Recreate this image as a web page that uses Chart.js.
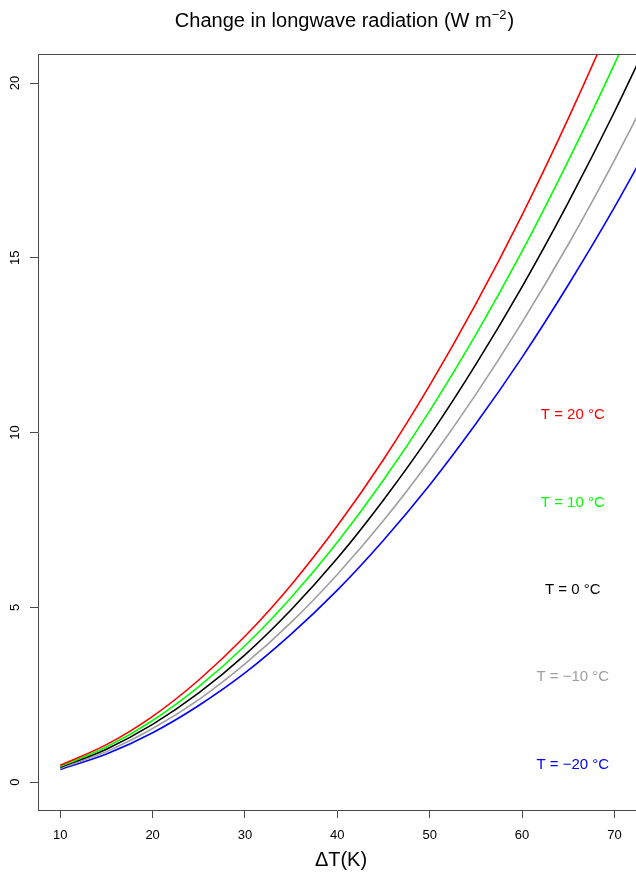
<!DOCTYPE html>
<html><head><meta charset="utf-8">
<script src="https://cdn.jsdelivr.net/npm/chart.js@4/dist/chart.umd.min.js"></script>
<style>html,body{margin:0;padding:0;background:#fff;}#wrap{width:636px;height:874px;}</style>
</head><body><div id="wrap"><canvas id="c" width="636" height="874"></canvas></div>
<script>
// Data
const deltaT = [10, 15, 20, 25, 30, 35, 40, 45, 50, 55, 60, 65, 70, 75];
const lwT20  = [0.48, 1.07, 1.88, 2.92, 4.17, 5.64, 7.33, 9.23, 11.35, 13.68, 16.22, 18.98, 21.95, 25.13];
const lwT10  = [0.45, 1.00, 1.76, 2.73, 3.90, 5.28, 6.86, 8.64, 10.62, 12.80, 15.18, 17.77, 20.54, 23.52];
const lwT0   = [0.42, 0.94, 1.65, 2.55, 3.64, 4.93, 6.40, 8.07, 9.91, 11.95, 14.17, 16.58, 19.17, 21.95];
const lwTm10 = [0.39, 0.87, 1.53, 2.36, 3.38, 4.57, 5.94, 7.48, 9.20, 11.09, 13.15, 15.38, 17.79, 20.36];
const lwTm20 = [0.36, 0.80, 1.41, 2.19, 3.12, 4.23, 5.49, 6.92, 8.50, 10.25, 12.15, 14.22, 16.44, 18.83];
const seriesNames = ['T = 20 \u00B0C', 'T = 10 \u00B0C', 'T = 0 \u00B0C', 'T = \u221210 \u00B0C', 'T = \u221220 \u00B0C'];
const seriesColors = ['#FF0000', '#00FF00', '#000000', '#9E9E9E', '#0000FF'];
const labelX = 65.5;
const labelY = [10.5, 8.0, 5.5, 3.0, 0.5];
const xTicks = [10, 20, 30, 40, 50, 60, 70];
const yTicks = [0, 5, 10, 15, 20];
const titleMain = 'Change in longwave radiation (W m';
const titleSup = '\u22122';
const titleEnd = ')';
const xTitle = '\u0394T(K)';

const allSeries = [lwT20, lwT10, lwT0, lwTm10, lwTm20];
const FONT = '"Liberation Sans", Arial, Helvetica, sans-serif';
const AXIS = '#4a4a4a';

const datasets = allSeries.map((s, i) => ({
  label: seriesNames[i],
  data: deltaT.map((x, j) => ({x: x, y: s[j]})),
  borderColor: seriesColors[i],
  borderWidth: 1.6,
  pointRadius: 0,
  fill: false,
  cubicInterpolationMode: 'monotone'
}));

const extras = {
  id: 'extras',
  afterDraw(chart) {
    const ctx = chart.ctx, ca = chart.chartArea;
    const xs = chart.scales.x, ys = chart.scales.y;
    ctx.save();
    // top border of box
    ctx.strokeStyle = AXIS; ctx.lineWidth = 1;
    ctx.beginPath(); ctx.moveTo(ca.left, Math.round(ca.top) + 0.5); ctx.lineTo(ca.right, Math.round(ca.top) + 0.5); ctx.stroke();
    // y tick labels rotated
    ctx.fillStyle = '#000'; ctx.font = '13px ' + FONT;
    ctx.textAlign = 'center'; ctx.textBaseline = 'middle';
    yTicks.forEach(v => {
      const py = ys.getPixelForValue(v);
      ctx.save(); ctx.translate(15, py); ctx.rotate(-Math.PI / 2);
      ctx.fillText(String(v), 0, 0); ctx.restore();
    });
    // series labels
    ctx.font = '15px ' + FONT;
    seriesNames.forEach((n, i) => {
      ctx.fillStyle = seriesColors[i];
      ctx.fillText(n, xs.getPixelForValue(labelX), ys.getPixelForValue(labelY[i]));
    });
    // title
    ctx.fillStyle = '#000'; ctx.textBaseline = 'alphabetic'; ctx.textAlign = 'left';
    const fMain = '20px ' + FONT, fSup = '13px ' + FONT;
    ctx.font = fMain; const w1 = ctx.measureText(titleMain).width, w3 = ctx.measureText(titleEnd).width;
    ctx.font = fSup; const w2 = ctx.measureText(titleSup).width;
    let tx = 344 - (w1 + w2 + w3) / 2; const ty = 27;
    ctx.font = fMain; ctx.fillText(titleMain, tx, ty); tx += w1;
    ctx.font = fSup; ctx.fillText(titleSup, tx, ty - 8); tx += w2 + 1;
    ctx.font = fMain; ctx.fillText(titleEnd, tx, ty);
    // x title
    ctx.font = '20px ' + FONT; ctx.textAlign = 'center';
    ctx.fillText(xTitle, 341, 866);
    ctx.restore();
  }
};

new Chart(document.getElementById('c'), {
  type: 'line',
  data: {datasets: datasets},
  plugins: [extras],
  options: {
    responsive: false,
    animation: false,
    devicePixelRatio: 1,
    layout: {padding: {top: 54, left: 0, right: 0, bottom: 0}},
    plugins: {legend: {display: false}, tooltip: {enabled: false}, title: {display: false}},
    scales: {
      x: {
        type: 'linear', min: 7.59, max: 72.34,
        afterBuildTicks: s => { s.ticks = xTicks.map(v => ({value: v})); },
        afterFit: s => { s.height = 64; },
        grid: {drawOnChartArea: false, drawTicks: true, tickLength: 8, tickColor: AXIS, tickWidth: 1},
        border: {display: true, color: AXIS, width: 1},
        ticks: {color: '#000', font: {family: FONT, size: 13}, padding: 10, maxRotation: 0, autoSkip: false}
      },
      y: {
        type: 'linear', min: -0.8, max: 20.83,
        afterBuildTicks: s => { s.ticks = yTicks.map(v => ({value: v})); },
        afterFit: s => { s.width = 38; },
        grid: {drawOnChartArea: false, drawTicks: true, tickLength: 8, tickColor: AXIS, tickWidth: 1},
        border: {display: true, color: AXIS, width: 1},
        ticks: {display: false}
      }
    }
  }
});
</script></body></html>
